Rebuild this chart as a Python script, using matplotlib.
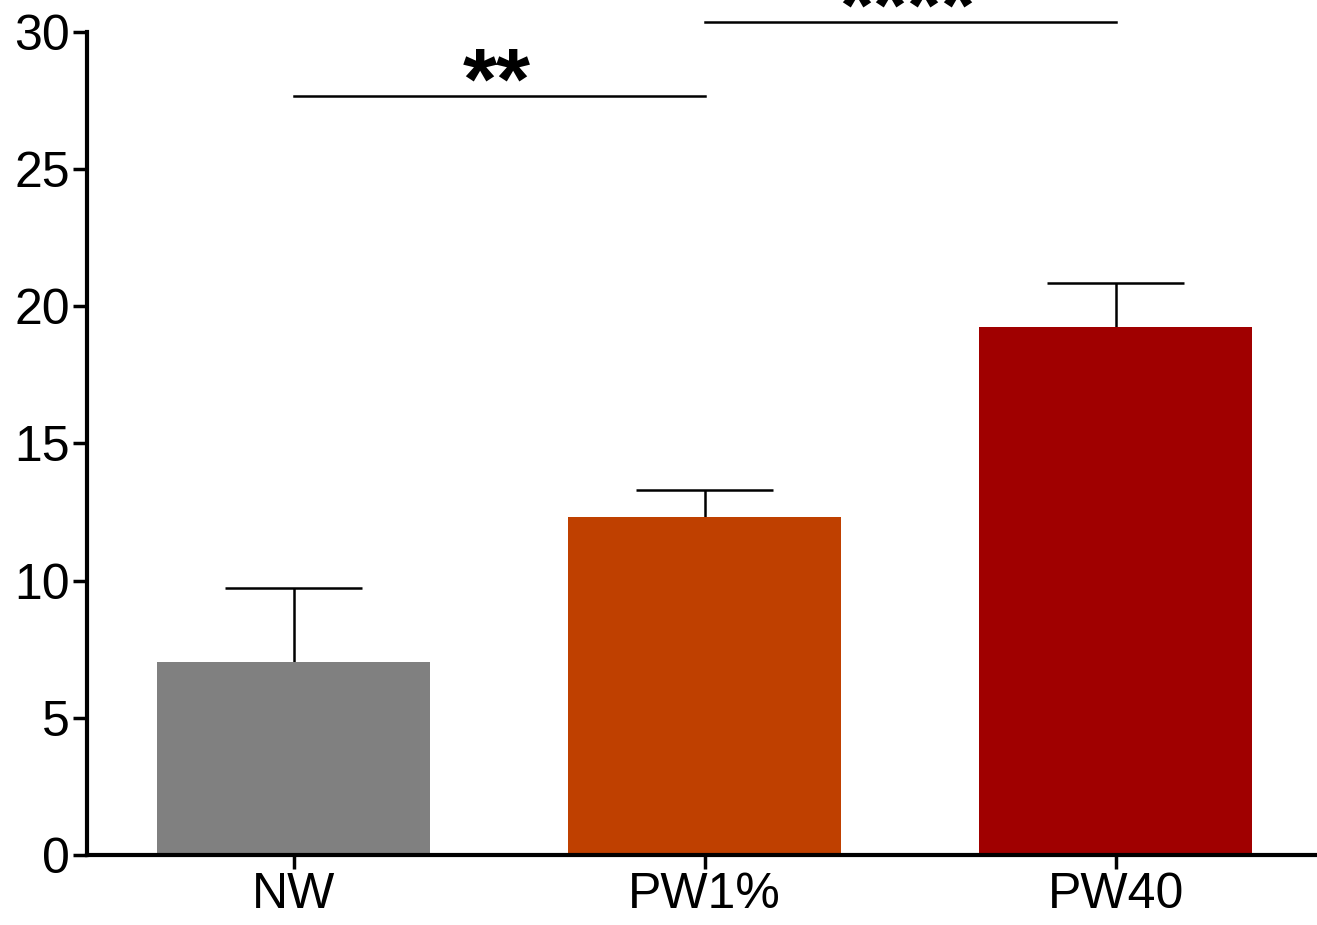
import numpy as np
import matplotlib.pyplot as plt
import matplotlib

matplotlib.rcParams['font.family'] = ['Liberation Sans', 'DejaVu Sans']
matplotlib.rcParams['font.size'] = 36

groups = ['NW', 'PW1%', 'PW40']
means = [7.05, 12.32, 19.25]
errs = [2.68, 0.99, 1.6]
colors = ['#808080', '#BF4000', '#A00000']

# significance brackets: (left idx, right idx, y, label)
sig_pairs = [(0, 1, 27.67, '**'), (1, 2, 30.37, '****')]

fig = plt.figure(figsize=(13.17, 9.25), dpi=100)
ax = fig.add_axes([0.066, 0.0757, 0.934, 0.8897])

x = np.arange(len(groups))
bw = 0.665
ax.bar(x, means, width=bw, color=colors, zorder=2)
# upper error bars only (stem + cap)
tops = np.array(means) + np.array(errs)
ax.vlines(x, means, tops, color='black', lw=1.8, zorder=1)
ax.hlines(tops, x - bw / 4, x + bw / 4, color='black', lw=1.8, zorder=1)

for i, j, y, lab in sig_pairs:
    ax.plot([x[i], x[j]], [y, y], color='black', lw=1.8, clip_on=False)
    ax.text((x[i] + x[j]) / 2 - 0.005, y - 0.46, lab, ha='center', va='baseline',
            fontsize=63, fontweight='bold', clip_on=False)

ax.set_xlim(-0.503, 2.49)
ax.set_ylim(0, 30)
ax.set_yticks([0, 5, 10, 15, 20, 25, 30])
ax.set_xticks(x)
ax.set_xticklabels(groups)
ax.spines['top'].set_visible(False)
ax.spines['right'].set_visible(False)
ax.spines['left'].set_linewidth(3)
ax.spines['bottom'].set_linewidth(3)
ax.tick_params(width=2.5, length=10, pad=2)

plt.savefig('out.png', dpi=100)
